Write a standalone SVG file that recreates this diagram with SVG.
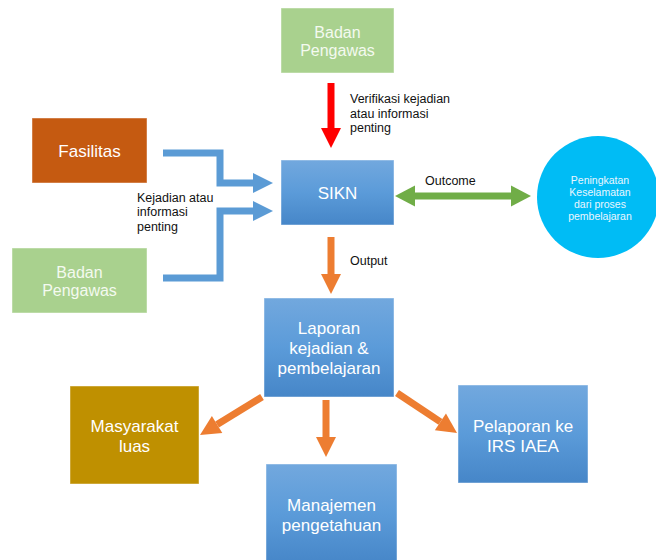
<svg xmlns="http://www.w3.org/2000/svg" width="656" height="560" viewBox="0 0 656 560">
<style>
.box{stroke:#ffffff;stroke-opacity:0.45;stroke-width:1}
.blue{fill:url(#gBlue)}
.t{font-family:"Liberation Sans",Arial,sans-serif;fill:#ffffff;text-anchor:middle}
.big{font-size:17px}
.mid{font-size:16px;fill:#F4FAF0}
.small{font-family:"Liberation Sans",Arial,sans-serif;font-size:12.5px;fill:#111111}
.ctext{font-family:"Liberation Sans",Arial,sans-serif;font-size:10.5px;fill:#EAF6FF;text-anchor:middle}
.conn{fill:none;stroke-width:7}
</style>
<defs>
<linearGradient id="gBlue" x1="0" y1="0" x2="0" y2="1">
<stop offset="0" stop-color="#72A8DE"/>
<stop offset="0.5" stop-color="#5B9BD9"/>
<stop offset="1" stop-color="#4686C8"/>
</linearGradient>
<marker id="mRed" markerUnits="userSpaceOnUse" markerWidth="20" markerHeight="20" refX="0" refY="10" orient="auto" overflow="visible"><path d="M0,0 L20,10 L0,20 z" fill="#FF0000"/></marker>
<marker id="mOrange" markerUnits="userSpaceOnUse" markerWidth="20" markerHeight="20" refX="0" refY="10" orient="auto" overflow="visible"><path d="M0,0 L20,10 L0,20 z" fill="#ED7D31"/></marker>
<marker id="mBlue" markerUnits="userSpaceOnUse" markerWidth="20" markerHeight="20" refX="0" refY="10" orient="auto" overflow="visible"><path d="M0,0 L20,10 L0,20 z" fill="#5B9BD5"/></marker>
<marker id="mGreen" markerUnits="userSpaceOnUse" markerWidth="20" markerHeight="21" refX="0" refY="10.5" orient="auto-start-reverse" overflow="visible"><path d="M0,0 L20,10.5 L0,21 z" fill="#70AD47"/></marker>
</defs>
<rect width="656" height="560" fill="#ffffff"/>

<g id="connectors">
<line class="conn" x1="331" y1="83" x2="331" y2="128" stroke="#FF0000" marker-end="url(#mRed)"/>
<polyline class="conn" points="163,153 220,153 220,183 253,183" stroke="#5B9BD5" stroke-width="6" marker-end="url(#mBlue)"/>
<polyline class="conn" points="163,278 220,278 220,211 253,211" stroke="#5B9BD5" stroke-width="6" marker-end="url(#mBlue)"/>
<line class="conn" x1="415" y1="196" x2="511" y2="196" stroke="#70AD47" marker-start="url(#mGreen)" marker-end="url(#mGreen)"/>
<line class="conn" x1="331" y1="237" x2="331" y2="274" stroke="#ED7D31" marker-end="url(#mOrange)"/>
<line class="conn" x1="326" y1="400" x2="326" y2="437" stroke="#ED7D31" marker-end="url(#mOrange)"/>
<line class="conn" x1="262" y1="397" x2="217.1" y2="424.5" stroke="#ED7D31" marker-end="url(#mOrange)"/>
<line class="conn" x1="397" y1="393" x2="440.4" y2="421.9" stroke="#ED7D31" marker-end="url(#mOrange)"/>
<text class="small" x="350" y="103">Verifikasi kejadian</text>
<text class="small" x="350" y="117.5">atau informasi</text>
<text class="small" x="350" y="132">penting</text>
<text class="small" x="137" y="201.5">Kejadian atau</text>
<text class="small" x="137" y="216">informasi</text>
<text class="small" x="137" y="230.5">penting</text>
<text class="small" x="425" y="185">Outcome</text>
<text class="small" x="350" y="265">Output</text>
</g>

<g id="badan-top">
<rect class="box" x="281" y="8" width="113" height="65" fill="#A9D18E"/>
<text class="t mid" x="337.5" y="38">Badan</text>
<text class="t mid" x="337.5" y="56">Pengawas</text>
</g>

<g id="fasilitas">
<rect class="box" x="32" y="118" width="115" height="65" fill="#C55A11"/>
<text class="t big" x="89.5" y="157">Fasilitas</text>
</g>

<g id="badan-left">
<rect class="box" x="12" y="248" width="135" height="65" fill="#A9D18E"/>
<text class="t mid" x="79.5" y="278">Badan</text>
<text class="t mid" x="79.5" y="296">Pengawas</text>
</g>

<g id="sikn">
<rect class="box blue" x="281" y="160" width="113" height="65"/>
<text class="t big" x="337.5" y="199">SIKN</text>
</g>

<g id="peningkatan">
<circle cx="598" cy="197" r="61" fill="#00BCF5"/>
<text class="ctext" x="600" y="183.5">Peningkatan</text>
<text class="ctext" x="600" y="195.5">Keselamatan</text>
<text class="ctext" x="600" y="207.5">dari proses</text>
<text class="ctext" x="600" y="219.5">pembelajaran</text>
</g>

<g id="laporan">
<rect class="box blue" x="264" y="298" width="130" height="99"/>
<text class="t big" x="329" y="334">Laporan</text>
<text class="t big" x="329" y="354">kejadian &amp;</text>
<text class="t big" x="329" y="374">pembelajaran</text>
</g>

<g id="masyarakat">
<rect class="box" x="70" y="386" width="129" height="98" fill="#BF9000"/>
<text class="t big" x="134.5" y="432">Masyarakat</text>
<text class="t big" x="134.5" y="452">luas</text>
</g>

<g id="pelaporan">
<rect class="box blue" x="458" y="385" width="130" height="98"/>
<text class="t big" x="523" y="432">Pelaporan ke</text>
<text class="t big" x="523" y="452">IRS IAEA</text>
</g>

<g id="manajemen">
<rect class="box blue" x="266" y="464" width="131" height="100"/>
<text class="t big" x="331.5" y="511">Manajemen</text>
<text class="t big" x="331.5" y="531">pengetahuan</text>
</g>
</svg>
